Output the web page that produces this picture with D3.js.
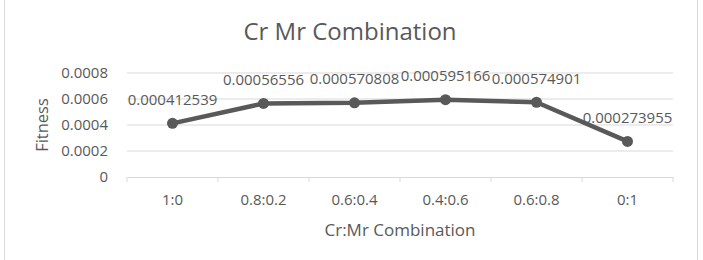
<!DOCTYPE html>
<html><head><meta charset="utf-8">
<script src="https://cdn.jsdelivr.net/npm/d3@7"></script>
<style>body{margin:0;background:#fff}svg{display:block}text{font-family:"Open Sans",sans-serif;fill:#595959}</style>
</head><body><svg id="c" width="703" height="260"></svg>
<script>
const categories = ["1:0","0.8:0.2","0.6:0.4","0.4:0.6","0.6:0.8","0:1"];
const fitness = [0.000412539,0.00056556,0.000570808,0.000595166,0.000574901,0.000273955];
const yTicks = [0,0.0002,0.0004,0.0006,0.0008];
const yTickLabels = ["0","0.0002","0.0004","0.0006","0.0008"];
const title = "Cr Mr Combination", xTitle = "Cr:Mr Combination", yTitle = "Fitness";

const svg = d3.select("#c");
svg.append("rect").attr("x",4.5).attr("y",-2).attr("width",693).attr("height",270)
  .attr("fill","#fff").attr("stroke","#d9d9d9");
const x = d3.scaleBand().domain(categories).range([127,673]);
const y = d3.scaleLinear().domain([0,0.0008]).range([177,73]);

svg.append("g").selectAll("line").data(yTicks.filter(d=>d>0)).join("line")
  .attr("x1",127).attr("x2",673).attr("y1",d=>y(d)).attr("y2",d=>y(d))
  .attr("stroke","#d9d9d9").attr("stroke-width",1);

const xa = svg.append("g").attr("transform",`translate(0,${y(0)})`)
  .call(d3.axisBottom(x).tickSize(0).tickPadding(17));
xa.select(".domain").attr("stroke","#d9d9d9");
xa.selectAll("text").attr("font-size",15).attr("fill","#595959").style("font-family","Open Sans");
const bounds = categories.map(c=>x(c)).concat([x.range()[1]]);
xa.selectAll(".bt").data(bounds).join("line").attr("class","bt")
  .attr("x1",d=>d).attr("x2",d=>d).attr("y1",0).attr("y2",5).attr("stroke","#d9d9d9");

const ya = svg.append("g").attr("transform","translate(108,0)")
  .call(d3.axisLeft(y).tickValues(yTicks).tickFormat((d,i)=>yTickLabels[i]).tickSize(0).tickPadding(0));
ya.select(".domain").remove();
ya.selectAll("text").attr("font-size",15).attr("fill","#595959").style("font-family","Open Sans");

const cx = d => x(d) + x.bandwidth()/2;
svg.append("path").datum(fitness.map((v,i)=>[categories[i],v]))
  .attr("fill","none").attr("stroke","#595959").attr("stroke-width",4.5).attr("stroke-linejoin","round")
  .attr("d", d3.line().x(d=>cx(d[0])).y(d=>y(d[1])));
svg.append("g").selectAll("circle").data(fitness).join("circle")
  .attr("cx",(d,i)=>cx(categories[i])).attr("cy",d=>y(d)).attr("r",5.5).attr("fill","#595959");
svg.append("g").selectAll("text").data(fitness).join("text")
  .attr("x",(d,i)=>cx(categories[i])).attr("y",d=>y(d)-24).attr("dy","0.35em")
  .attr("text-anchor","middle").attr("font-size",15).text(d=>String(d));

svg.append("text").attr("x",350).attr("y",32).attr("dy","0.35em").attr("text-anchor","middle")
  .attr("font-size",24).text(title);
svg.append("text").attr("x",400).attr("y",230).attr("dy","0.35em").attr("text-anchor","middle")
  .attr("font-size",17).text(xTitle);
svg.append("text").attr("transform","translate(42,125) rotate(-90)").attr("dy","0.35em")
  .attr("text-anchor","middle").attr("font-size",16.5).text(yTitle);
</script></body></html>
